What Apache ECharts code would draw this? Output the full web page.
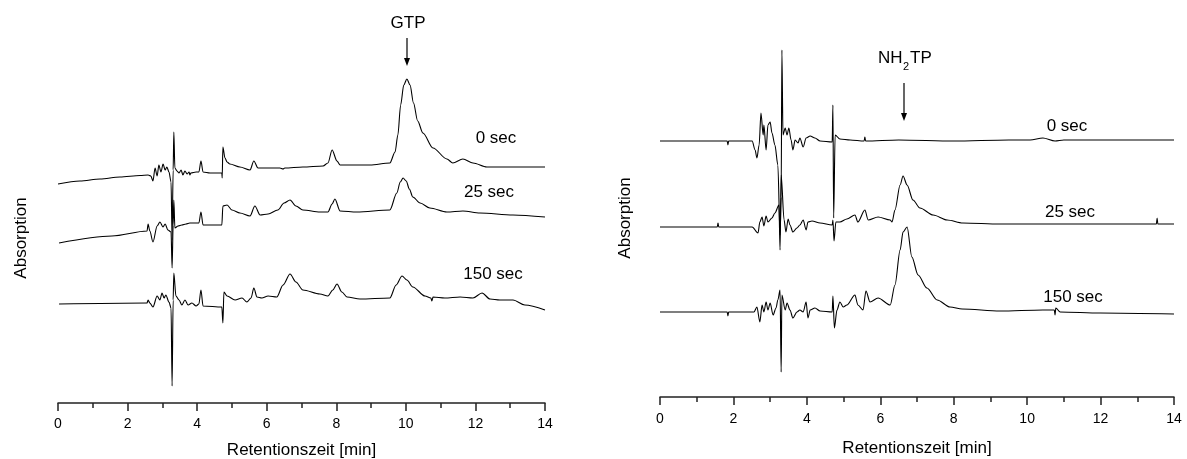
<!DOCTYPE html>
<html>
<head>
<meta charset="utf-8">
<script src="https://cdn.jsdelivr.net/npm/echarts@6/dist/echarts.min.js"></script>
<style>
html,body{margin:0;padding:0;background:#fff;}
#c{width:1187px;height:459px;}
</style>
</head>
<body>
<div id="c"></div>
<script>
// ---------- DATA (time in min, absorption in arbitrary units) ----------
const xTicks = [0, 2, 4, 6, 8, 10, 12, 14];

// Left panel: GTP
const gtp0_t = [0,0.63,1.21,1.78,2.36,2.59,2.67,2.73,2.79,2.85,2.90,2.96,3.02,3.08,3.13,3.19,3.25,3.28,3.31,3.33,3.36,3.42,3.48,3.54,3.59,3.65,3.71,3.77,3.79,3.82,3.97,4.05,4.11,4.17,4.37,4.71,4.72,4.74,4.80,4.86,4.94,5.23,5.52,5.63,5.75,5.95,6.38,6.47,6.52,7.04,7.62,7.76,7.88,8.02,8.11,8.97,9.54,9.69,9.77,9.85,9.94,10.03,10.12,10.22,10.34,10.49,10.78,11.18,11.35,11.64,11.93,12.33,14.0];
const gtp0_v = [219,222,224,226,227.5,228,227,222,235,227,238,231,239,233,236,231,221,163,233,271,235,232,230,233,228,232,229,231,228,230,231,231,242,231,230,230,225,256,245,241,239,236,233,242,235,235,235,234,235,236,237,240,253,242,238,238,240,251,268,298,318,324,318,300,282,270,255,244,240,244,240,236,236];

const gtp25_t = [0.03,1.55,2.56,2.59,2.64,2.73,2.85,2.93,3.02,3.08,3.16,3.25,3.28,3.31,3.33,3.36,3.45,3.56,3.68,3.79,4.05,4.11,4.17,4.71,4.74,4.86,5.00,5.23,5.52,5.66,5.81,6.04,6.32,6.50,6.67,6.84,7.04,7.53,7.76,7.88,7.96,8.11,8.59,9.54,9.74,9.84,9.92,10.01,10.10,10.20,10.41,10.69,11.18,11.64,12.13,13.08,14.0];
const gtp25_v = [160,167,172,179,172,161,177,181,176,179,173,171,135,178,203,175,177,178,179,180,180,191,178,178,197,198,193,190,187,197,188,189,193,200,203,197,193,191,191,199,204,192,191,193,210,221,225,222,214,206,200,195,191,192,190,188,186];

const gtp150_t = [0.03,2.56,2.59,2.64,2.73,2.85,2.93,2.99,3.05,3.10,3.19,3.25,3.28,3.31,3.33,3.39,3.48,3.56,3.65,3.74,3.85,3.97,4.05,4.11,4.17,4.71,4.74,4.77,4.86,5.09,5.29,5.43,5.55,5.63,5.72,5.86,6.04,6.29,6.47,6.67,6.84,7.04,7.53,7.76,7.90,8.02,8.16,8.31,8.68,9.54,9.72,9.89,10.03,10.20,10.55,10.72,10.75,10.78,11.12,11.56,11.93,12.19,12.42,12.70,13.08,13.42,14.0];
const gtp150_v = [99,100,103,100,96,107,103,110,105,108,101,95,17,103,130,107,103,98,103,98,100,97,99,113,97,96,80,111,107,103,105,101,105,115,106,105,107,106,118,129,121,113,109,107,113,119,111,106,104,105,118,127,123,116,107,105,102,106,105,106,105,110,104,103,103,98,93];

// Right panel: NH2TP
const nh0_t = [0,1.0,1.83,1.85,1.87,2.51,2.59,2.64,2.70,2.75,2.81,2.83,2.89,2.94,3.00,3.05,3.13,3.21,3.27,3.30,3.32,3.35,3.41,3.46,3.51,3.57,3.62,3.68,3.76,3.81,3.90,3.98,4.09,4.22,4.36,4.69,4.71,4.73,4.77,4.90,5.18,5.56,5.58,5.60,6.5,8.0,9.5,10.08,10.43,10.76,11.0,14.0];
const nh0_v = [256,256,256,252,256,256,247,239,252,284,262,272,247,272,275,264,252,232,162,200,347,262,269,262,269,257,247,257,254,259,250,259,261,259,256,255,292,179,262,258,257,256,260,256,257,256,257,257,259,256,257,257];

const nh25_t = [0,1.56,1.58,1.60,2.51,2.67,2.72,2.78,2.83,2.89,2.94,3.05,3.13,3.24,3.27,3.30,3.38,3.43,3.49,3.54,3.62,3.73,3.81,3.90,3.98,4.03,4.14,4.36,4.69,4.71,4.74,4.79,4.90,5.09,5.31,5.39,5.58,5.67,5.94,6.27,6.32,6.40,6.54,6.62,6.73,6.89,7.08,7.44,7.82,8.25,9.26,11.99,13.52,13.54,13.56,14.0];
const nh25_v = [170,170,174,170,170,164,175,180,171,181,175,179,184,192,147,222,177,165,178,172,165,169,172,177,167,175,176,174,172,177,156,175,175,178,182,175,187,177,180,177,175,187,212,221,212,197,189,182,177,174,173,173,173,179,173,173];

const nh150_t = [0,1.83,1.85,1.87,2.56,2.64,2.72,2.78,2.83,2.89,2.94,3.00,3.08,3.16,3.21,3.27,3.30,3.32,3.41,3.46,3.54,3.62,3.73,3.81,3.90,3.98,4.03,4.09,4.22,4.36,4.69,4.71,4.75,4.82,4.90,4.99,5.09,5.31,5.39,5.53,5.61,5.72,5.94,6.27,6.40,6.54,6.62,6.73,6.86,7.03,7.27,7.55,7.90,8.23,9.26,10.43,10.74,10.76,10.78,10.90,11.99,14.0];
const nh150_v = [85,85,81,85,85,90,75,92,85,95,87,94,82,89,97,107,25,102,87,94,87,79,85,87,85,95,79,87,89,86,85,101,69,87,95,90,92,102,92,87,106,95,99,92,112,147,165,170,140,122,109,97,90,88,86,87,87,82,89,85,84,83];

// ---------- CHART ----------
const zip = (t, v) => t.map((x, i) => [x, v[i]]);
const FONT = '"Liberation Sans", Arial, sans-serif';

function xAxisCfg(gridIndex, nameGap, margin) {
  return {
    gridIndex, type: 'value', min: 0, max: 14, interval: 2,
    name: 'Retentionszeit [min]', nameLocation: 'middle', nameGap,
    nameTextStyle: { fontSize: 17, color: '#000', fontFamily: FONT },
    axisLine: { show: true, lineStyle: { color: '#222', width: 1.5 } },
    axisTick: { show: true, inside: false, length: 8, lineStyle: { color: '#222', width: 1.5 } },
    minorTick: { show: true, splitNumber: 2, length: 5, lineStyle: { color: '#222', width: 1.5 } },
    axisLabel: { fontSize: 14, color: '#000', margin, fontFamily: FONT,
      formatter: v => xTicks.includes(v) ? String(v) : '' },
    splitLine: { show: false }
  };
}
function yAxisCfg(gridIndex, max) {
  return { gridIndex, type: 'value', min: 0, max, show: false, splitLine: { show: false } };
}
function line(data, xi) {
  return { type: 'line', data, xAxisIndex: xi, yAxisIndex: xi, symbol: 'none', showSymbol: false,
    smooth: 0.3, smoothMonotone: 'x',
    silent: true, animation: false, lineStyle: { color: '#000', width: 1.1 } };
}
function label(text, x, y, size, extra) {
  return Object.assign({ type: 'text', x, y, silent: true,
    style: { text, fill: '#000', font: (size || 17) + 'px ' + FONT, align: 'center', verticalAlign: 'middle' } }, extra || {});
}
function arrow(x, y1, y2) {
  return [
    { type: 'line', silent: true, shape: { x1: x, y1: y1, x2: x, y2: y2 - 6 }, style: { stroke: '#000', lineWidth: 1.2 } },
    { type: 'polygon', silent: true, shape: { points: [[x - 3, y2 - 8], [x + 3, y2 - 8], [x, y2]] }, style: { fill: '#000' } }
  ];
}

const chart = echarts.init(document.getElementById('c'), null, { renderer: 'canvas' });
chart.setOption({
  animation: false,
  backgroundColor: '#fff',
  grid: [
    { left: 58, width: 487, top: 3, height: 400, containLabel: false, outerBoundsMode: 'none' },
    { left: 660, width: 514, top: 7, height: 390, containLabel: false, outerBoundsMode: 'none' }
  ],
  xAxis: [xAxisCfg(0, 39, 14), xAxisCfg(1, 43, 15)],
  yAxis: [yAxisCfg(0, 400), yAxisCfg(1, 390)],
  series: [
    line(zip(gtp0_t, gtp0_v), 0),
    line(zip(gtp25_t, gtp25_v), 0),
    line(zip(gtp150_t, gtp150_v), 0),
    line(zip(nh0_t, nh0_v), 1),
    line(zip(nh25_t, nh25_v), 1),
    line(zip(nh150_t, nh150_v), 1)
  ],
  graphic: [
    label('Absorption', 21, 238, 17, { rotation: Math.PI / 2 }),
    label('Absorption', 625, 218, 17, { rotation: Math.PI / 2 }),
    label('GTP', 408, 23),
    ...arrow(407, 38, 66),
    label('0 sec', 496, 138),
    label('25 sec', 489, 192),
    label('150 sec', 493, 274),
    { type: 'text', x: 878, y: 58, silent: true, style: { text: 'NH', fill: '#000', font: '17px ' + FONT, align: 'left', verticalAlign: 'middle' } },
    { type: 'text', x: 903, y: 67, silent: true, style: { text: '2', fill: '#000', font: '11px ' + FONT, align: 'left', verticalAlign: 'middle' } },
    { type: 'text', x: 910, y: 58, silent: true, style: { text: 'TP', fill: '#000', font: '17px ' + FONT, align: 'left', verticalAlign: 'middle' } },
    ...arrow(904, 83, 121),
    label('0 sec', 1067, 126),
    label('25 sec', 1070, 212),
    label('150 sec', 1073, 297)
  ]
});
</script>
</body>
</html>
